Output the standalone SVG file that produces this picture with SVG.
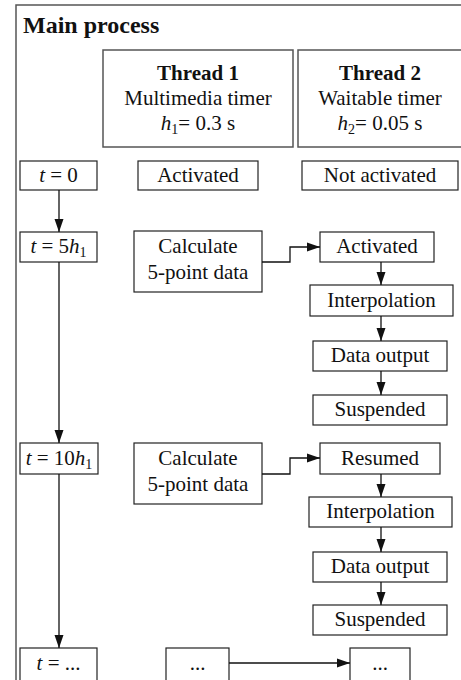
<svg xmlns="http://www.w3.org/2000/svg" width="461" height="680" viewBox="0 0 461 680">
<style>
text{font-family:"Liberation Serif","Times New Roman",serif;font-size:21px;fill:#111;text-anchor:middle}
.b{font-weight:bold}
.title{font-size:24px;font-weight:bold;text-anchor:start}
.i{font-style:italic}
.box{fill:#fff;stroke:#222;stroke-width:1.2}
.hbox{fill:#fff;stroke:#555;stroke-width:1.5}
.frame{fill:none;stroke:#555;stroke-width:1.5}
.c{fill:none;stroke:#111;stroke-width:1.3}
</style>
<defs>
<marker id="ah" markerWidth="13" markerHeight="10" refX="13" refY="5" orient="auto" markerUnits="userSpaceOnUse">
<path d="M0,0.5 L13,5 L0,9.5 Z" fill="#111"/>
</marker>
</defs>
<rect width="461" height="680" fill="#fff"/>
<g id="frame">
<rect class="frame" x="16" y="5" width="460" height="690"/>
<text class="title" x="23" y="33">Main process</text>
</g>
<g id="thread1">
<rect class="hbox" x="103" y="50" width="190" height="97"/>
<text class="b" x="198" y="80">Thread 1</text>
<text x="198" y="105">Multimedia timer</text>
<text x="198" y="130"><tspan class="i">h</tspan><tspan font-size="14" dy="4">1</tspan><tspan dy="-4">= 0.3 s</tspan></text>
</g>
<g id="thread2">
<rect class="hbox" x="298" y="50" width="175" height="97"/>
<text class="b" x="380" y="80">Thread 2</text>
<text x="380" y="105">Waitable timer</text>
<text x="380" y="130"><tspan class="i">h</tspan><tspan font-size="14" dy="4">2</tspan><tspan dy="-4">= 0.05 s</tspan></text>
</g>
<g id="t0"><rect class="box" x="20" y="161" width="77" height="29"/><text x="58.5" y="182"><tspan class="i">t</tspan> = 0</text></g>
<g id="act1"><rect class="box" x="138" y="161" width="120" height="29"/><text x="198" y="182">Activated</text></g>
<g id="notact"><rect class="box" x="302" y="161" width="156" height="29"/><text x="380" y="182">Not activated</text></g>
<g id="t5"><rect class="box" x="20" y="232" width="77" height="30"/><text x="58.5" y="253"><tspan class="i">t</tspan> = 5<tspan class="i">h</tspan><tspan font-size="14" dy="4">1</tspan></text></g>
<g id="calc1"><rect class="box" x="134" y="231" width="128" height="61"/><text x="198" y="253">Calculate</text><text x="198" y="279">5-point data</text></g>
<g id="act2"><rect class="box" x="320" y="232" width="114" height="30"/><text x="377" y="253">Activated</text></g>
<g id="interp1"><rect class="box" x="310" y="285" width="143" height="31"/><text x="381.5" y="307">Interpolation</text></g>
<g id="out1"><rect class="box" x="313" y="341" width="134" height="30"/><text x="380" y="362">Data output</text></g>
<g id="susp1"><rect class="box" x="313" y="395" width="134" height="30"/><text x="380" y="416">Suspended</text></g>
<g id="t10"><rect class="box" x="20" y="443" width="78" height="31"/><text x="59" y="465"><tspan class="i">t</tspan> = 10<tspan class="i">h</tspan><tspan font-size="14" dy="4">1</tspan></text></g>
<g id="calc2"><rect class="box" x="134" y="443" width="128" height="61"/><text x="198" y="465">Calculate</text><text x="198" y="491">5-point data</text></g>
<g id="resumed"><rect class="box" x="320" y="443" width="120" height="31"/><text x="380" y="465">Resumed</text></g>
<g id="interp2"><rect class="box" x="309" y="497" width="143" height="30"/><text x="380.5" y="518">Interpolation</text></g>
<g id="out2"><rect class="box" x="313" y="552" width="134" height="30"/><text x="380" y="573">Data output</text></g>
<g id="susp2"><rect class="box" x="313" y="605" width="134" height="30"/><text x="380" y="626">Suspended</text></g>
<g id="tdots"><rect class="box" x="20" y="648" width="77" height="45"/><text x="58.5" y="670"><tspan class="i">t</tspan> = ...</text></g>
<g id="dots1"><rect class="box" x="166" y="648" width="63" height="45"/><text x="197.5" y="670">...</text></g>
<g id="dots2"><rect class="box" x="350" y="648" width="60" height="45"/><text x="380" y="670">...</text></g>
<g id="connectors">
<path class="c" d="M59,190 V232" marker-end="url(#ah)"/>
<path class="c" d="M59,262 V443" marker-end="url(#ah)"/>
<path class="c" d="M59,474 V648" marker-end="url(#ah)"/>
<path class="c" d="M262,262 H290 V247 H320" marker-end="url(#ah)"/>
<path class="c" d="M381,262 V285" marker-end="url(#ah)"/>
<path class="c" d="M381,316 V341" marker-end="url(#ah)"/>
<path class="c" d="M381,371 V395" marker-end="url(#ah)"/>
<path class="c" d="M262,474 H290 V458 H320" marker-end="url(#ah)"/>
<path class="c" d="M381,474 V497" marker-end="url(#ah)"/>
<path class="c" d="M381,527 V552" marker-end="url(#ah)"/>
<path class="c" d="M381,582 V605" marker-end="url(#ah)"/>
<path class="c" d="M229,663 H350" marker-end="url(#ah)"/>
</g>
</svg>
